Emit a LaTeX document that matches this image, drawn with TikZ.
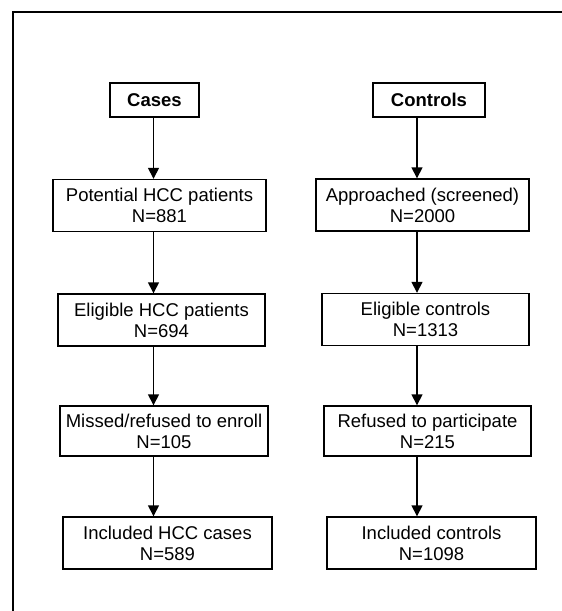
\documentclass[tikz,border=0pt]{standalone}
\usepackage{fontspec}
\setmainfont{Liberation Sans}
\usetikzlibrary{arrows.meta}

\tikzset{
  stage/.style={draw, line width=1.4pt, inner sep=0pt, align=center,
    minimum height=52pt, font=\fontsize{18.5}{21}\selectfont},
  head/.style={stage, minimum height=34pt, font=\fontsize{18.5}{21}\selectfont\bfseries},
  flow/.style={line width=1.5pt, -{Triangle[width=11pt,length=11pt]}}
}

\begin{document}
\begin{tikzpicture}[x=1pt,y=-1pt]
\useasboundingbox (0,0) rectangle (562,611);
\draw[line width=1.4pt] (13,611) -- (13,12) -- (562,12);

\path (154.5,100) node[head, minimum width=89pt] (cases) {Cases}
      (429,100) node[head, minimum width=112pt] (controls) {Controls}
      (159.5,205.5) node[stage, minimum width=213pt] (potHCC) {Potential HCC patients\\N=881}
      (422.5,205) node[stage, minimum width=213pt] (approached) {Approached (screened)\\N=2000}
      (161.5,320) node[stage, minimum width=207pt] (eligHCC) {Eligible HCC patients\\N=694}
      (425.5,319.5) node[stage, minimum width=207pt] (eligCtl) {Eligible controls\\N=1313}
      (164,431) node[stage, minimum width=208pt, minimum height=50pt] (missed) {Missed/refused to enroll\\N=105}
      (427.5,431) node[stage, minimum width=207pt, minimum height=50pt] (refused) {Refused to participate\\N=215}
      (167.5,543) node[stage, minimum width=209pt] (inclHCC) {Included HCC cases\\N=589}
      (431.5,543) node[stage, minimum width=209pt] (inclCtl) {Included controls\\N=1098};

\coordinate (colL) at (153.5,0);
\coordinate (colR) at (417,0);

\draw[flow] (cases.south -| colL) -- (potHCC.north -| colL);
\draw[flow] (potHCC.south -| colL) -- (eligHCC.north -| colL);
\draw[flow] (eligHCC.south -| colL) -- (missed.north -| colL);
\draw[flow] (missed.south -| colL) -- (inclHCC.north -| colL);

\draw[flow] (controls.south -| colR) -- (approached.north -| colR);
\draw[flow] (approached.south -| colR) -- (eligCtl.north -| colR);
\draw[flow] (eligCtl.south -| colR) -- (refused.north -| colR);
\draw[flow] (refused.south -| colR) -- (inclCtl.north -| colR);
\end{tikzpicture}
\end{document}
